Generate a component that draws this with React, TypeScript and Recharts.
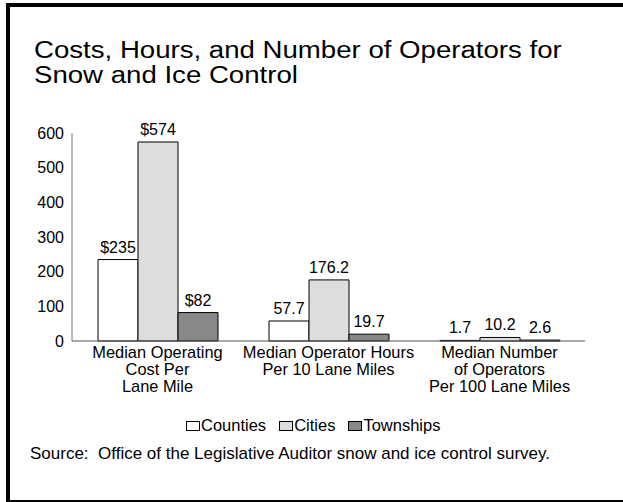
import React from "react";
import { BarChart, Bar, XAxis, YAxis, LabelList } from "recharts";

const FONT = '"Liberation Sans", Arial, Helvetica, sans-serif';

// measures (one per category group)
const categories = [
  ["Median Operating", "Cost Per", "Lane Mile"],
  ["Median Operator Hours", "Per 10 Lane Miles"],
  ["Median Number", "of Operators", "Per 100 Lane Miles"],
];
const labelPrefix = ["$", "", ""];
const labelDecimals = [0, 1, 1];

const counties = [235, 57.7, 1.7];
const cities = [574, 176.2, 10.2];
const townships = [82, 19.7, 2.6];

const yTicks = [0, 100, 200, 300, 400, 500, 600];

const seriesInfo = [
  { key: "counties", name: "Counties", fill: "#ffffff" },
  { key: "cities", name: "Cities", fill: "#dddddd" },
  { key: "townships", name: "Townships", fill: "#888888" },
];

const fmt = (v: number, i: number) => labelPrefix[i] + v.toFixed(labelDecimals[i]);

const chartData = categories.map((lines, i) => ({
  name: lines.join(" "),
  counties: counties[i],
  cities: cities[i],
  townships: townships[i],
  countiesLabel: fmt(counties[i], i),
  citiesLabel: fmt(cities[i], i),
  townshipsLabel: fmt(townships[i], i),
}));

function CategoryTick(props: any) {
  const { x, y, payload } = props;
  const lines = categories[payload.index] ?? [payload.value];
  return (
    <text x={x} y={y + 17} textAnchor="middle" fontSize={16.4} fontFamily={FONT} fill="#000">
      {lines.map((line, i) => (
        <tspan key={i} x={x} dy={i === 0 ? 0 : 16.8}>
          {line}
        </tspan>
      ))}
    </text>
  );
}

function ValueTick(props: any) {
  const { x, y, payload } = props;
  return (
    <text x={x - 8} y={y + 5.5} textAnchor="end" fontSize={16} fontFamily={FONT} fill="#000">
      {payload.value}
    </text>
  );
}

function BarValue(props: any) {
  const x = Number(props.x);
  const y = Number(props.y);
  const w = Number(props.width);
  return (
    <text x={x + w / 2} y={y - 7} textAnchor="middle" fontSize={16} fontFamily={FONT} fill="#000">
      {props.value}
    </text>
  );
}

export default function App() {
  return (
    <div
      style={{
        position: "absolute",
        left: 0,
        top: 0,
        width: 623,
        height: 502,
        overflow: "hidden",
        background: "#fff",
        fontFamily: FONT,
      }}
    >
      <div
        style={{
          position: "absolute",
          left: 6,
          top: 3,
          width: 660,
          height: 501,
          border: "4px solid #000",
          boxSizing: "border-box",
        }}
      />
      <div
        style={{
          position: "absolute",
          left: 34,
          top: 38,
          fontSize: 23,
          lineHeight: "25px",
          whiteSpace: "nowrap",
          transform: "scaleX(1.2)",
          transformOrigin: "left top",
          color: "#000",
        }}
      >
        Costs, Hours, and Number of Operators for
        <br />
        Snow and Ice Control
      </div>

      <div style={{ position: "absolute", left: 0, top: 0 }}>
        <BarChart
          width={623}
          height={410}
          data={chartData}
          margin={{ top: 133, right: 38, bottom: 0, left: 0 }}
          barSize={40}
          barGap={0}
        >
          <YAxis
            width={72}
            domain={[0, 600]}
            ticks={yTicks}
            interval={0}
            tickLine={false}
            tickSize={0}
            tickMargin={0}
            axisLine={{ stroke: "#777" }}
            tick={<ValueTick />}
          />
          <XAxis
            dataKey="name"
            height={69}
            interval={0}
            tickLine={false}
            tickSize={0}
            tickMargin={0}
            axisLine={{ stroke: "#555" }}
            tick={<CategoryTick />}
          />
          {seriesInfo.map((s) => (
            <Bar
              key={s.key}
              dataKey={s.key}
              name={s.name}
              fill={s.fill}
              stroke="#000"
              strokeWidth={1}
              isAnimationActive={false}
            >
              <LabelList dataKey={`${s.key}Label`} content={<BarValue />} />
            </Bar>
          ))}
        </BarChart>
      </div>

      <div
        style={{
          position: "absolute",
          left: 186,
          top: 416,
          height: 18,
          display: "flex",
          alignItems: "center",
          fontSize: 16.5,
          lineHeight: "18px",
          whiteSpace: "nowrap",
          color: "#000",
        }}
      >
        {seriesInfo.map((s, i) => (
          <div
            key={s.key}
            style={{ display: "flex", alignItems: "center", marginLeft: i === 0 ? 0 : 13 }}
          >
            <span
              style={{
                display: "inline-block",
                width: 12,
                height: 8,
                border: "1px solid #000",
                background: s.fill,
                marginRight: 1,
                marginTop: 2,
              }}
            />
            <span>{s.name}</span>
          </div>
        ))}
      </div>

      <div
        style={{
          position: "absolute",
          left: 30,
          top: 444,
          fontSize: 17,
          lineHeight: "20px",
          whiteSpace: "pre",
          color: "#000",
        }}
      >
        {"Source:  Office of the Legislative Auditor snow and ice control survey."}
      </div>
    </div>
  );
}
